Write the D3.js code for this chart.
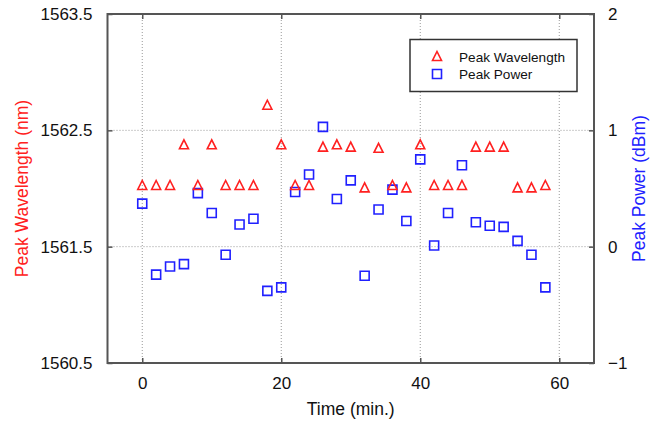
<!DOCTYPE html>
<html>
<head>
<meta charset="utf-8">
<script src="https://cdn.jsdelivr.net/npm/d3@7"></script>
<style>
  html, body { margin: 0; padding: 0; background: #fff; }
  svg { display: block; font-family: "Liberation Sans", Arial, sans-serif; }
</style>
</head>
<body>
<svg id="chart" width="661" height="424"></svg>
<script>
// Sampling times (min.)
const times = [0, 2, 4, 6, 8, 10, 12, 14, 16, 18, 20, 22, 24, 26, 28, 30, 32, 34, 36, 38, 40, 42, 44, 46, 48, 50, 52, 54, 56, 58];
// Peak wavelength (nm), left axis
const peakWavelength = [1562.03, 1562.03, 1562.03, 1562.38, 1562.03, 1562.38, 1562.03, 1562.03, 1562.03, 1562.72,
                        1562.38, 1562.03, 1562.03, 1562.36, 1562.38, 1562.36, 1562.01, 1562.35, 1562.03, 1562.01,
                        1562.38, 1562.03, 1562.03, 1562.03, 1562.36, 1562.36, 1562.36, 1562.01, 1562.01, 1562.03];
// Peak power (dBm), right axis
const peakPower = [0.37, -0.24, -0.17, -0.15, 0.46, 0.29, -0.07, 0.19, 0.24, -0.38,
                   -0.35, 0.47, 0.62, 1.03, 0.41, 0.57, -0.25, 0.32, 0.49, 0.22,
                   0.75, 0.01, 0.29, 0.70, 0.21, 0.18, 0.17, 0.05, -0.07, -0.35];
// Tick values
const xTicks = [0, 20, 40, 60];
const yLeftTicks = [1560.5, 1561.5, 1562.5, 1563.5];
const yRightTicks = [-1, 0, 1, 2];

const svg = d3.select("#chart");
const plot = { left: 107.5, right: 594, top: 14, bottom: 363 };

const x = d3.scaleLinear().domain([-5, 65]).range([plot.left, plot.right]);
const yL = d3.scaleLinear().domain([1560.5, 1563.5]).range([plot.bottom, plot.top]);
const yR = d3.scaleLinear().domain([-1, 2]).range([plot.bottom, plot.top]);

const gridColor = "#999";
const frameColor = "#555";

// Dotted grid
const grid = svg.append("g");
grid.selectAll("line.gx").data(xTicks).join("line")
  .attr("x1", d => x(d)).attr("x2", d => x(d))
  .attr("y1", plot.top).attr("y2", plot.bottom)
  .attr("stroke", gridColor).attr("stroke-width", 1).attr("stroke-dasharray", "1,2");
grid.selectAll("line.gy").data(yLeftTicks).join("line")
  .attr("y1", d => yL(d)).attr("y2", d => yL(d))
  .attr("x1", plot.left).attr("x2", plot.right)
  .attr("stroke", gridColor).attr("stroke-width", 1).attr("stroke-dasharray", "1,2");

// Axes with short inward ticks
const tickLen = 5;
const fontSize = 17;
function styleAxis(g) {
  g.select(".domain").remove();
  g.selectAll(".tick line").attr("stroke", frameColor).attr("stroke-width", 1.5);
  g.selectAll(".tick text").attr("fill", "#111").attr("font-size", fontSize)
    .attr("font-family", "Liberation Sans, Arial, sans-serif");
}

svg.append("g").attr("transform", `translate(0,${plot.bottom})`)
  .call(d3.axisBottom(x).tickValues(xTicks).tickSize(-tickLen).tickPadding(14).tickFormat(d3.format("d")))
  .call(styleAxis);
svg.append("g").attr("transform", `translate(0,${plot.top})`)
  .call(d3.axisTop(x).tickValues(xTicks).tickSize(-tickLen).tickFormat(""))
  .call(styleAxis);
svg.append("g").attr("transform", `translate(${plot.left},0)`)
  .call(d3.axisLeft(yL).tickValues(yLeftTicks).tickSize(-tickLen).tickPadding(15).tickFormat(d3.format(".1f")))
  .call(styleAxis);
svg.append("g").attr("transform", `translate(${plot.right},0)`)
  .call(d3.axisRight(yR).tickValues(yRightTicks).tickSize(-tickLen).tickPadding(14).tickFormat(d3.format("d")))
  .call(styleAxis);

// Frame
svg.append("rect")
  .attr("x", plot.left).attr("y", plot.top)
  .attr("width", plot.right - plot.left).attr("height", plot.bottom - plot.top)
  .attr("fill", "none").attr("stroke", frameColor).attr("stroke-width", 2);

// Marker paths
const triPath = (cx, cy, s) => `M${cx},${cy - s / 2}L${cx + s / 2},${cy + s / 2}L${cx - s / 2},${cy + s / 2}Z`;
const sqPath = (cx, cy, s) => `M${cx - s / 2},${cy - s / 2}h${s}v${s}h${-s}Z`;

const red = "#ff2020";
const blue = "#2020ff";

const wlData = times.map((t, i) => ({ t, v: peakWavelength[i] }));
const pwData = times.map((t, i) => ({ t, v: peakPower[i] }));

svg.append("g").selectAll("path").data(pwData).join("path")
  .attr("d", d => sqPath(x(d.t), yR(d.v), 9))
  .attr("fill", "none").attr("stroke", blue).attr("stroke-width", 1.6);

svg.append("g").selectAll("path").data(wlData).join("path")
  .attr("d", d => triPath(x(d.t), yL(d.v), 9))
  .attr("fill", "none").attr("stroke", red).attr("stroke-width", 1.6);

// Legend
const lg = svg.append("g");
lg.append("rect").attr("x", 410).attr("y", 39.5).attr("width", 167).attr("height", 52)
  .attr("fill", "#fff").attr("stroke", "#333").attr("stroke-width", 1.5);
lg.append("path").attr("d", triPath(437, 56, 9)).attr("fill", "none").attr("stroke", red).attr("stroke-width", 1.6);
lg.append("path").attr("d", sqPath(437, 74, 9)).attr("fill", "none").attr("stroke", blue).attr("stroke-width", 1.6);
lg.append("text").attr("x", 459).attr("y", 61.5).attr("font-size", 13.6).attr("fill", "#111").text("Peak Wavelength");
lg.append("text").attr("x", 459).attr("y", 79).attr("font-size", 13.6).attr("fill", "#111").text("Peak Power");

// Axis titles
const midY = (plot.top + plot.bottom) / 2;
svg.append("text")
  .attr("transform", `translate(28,${midY}) rotate(-90)`)
  .attr("text-anchor", "middle").attr("font-size", 17.5).attr("fill", red)
  .text("Peak Wavelength (nm)");
svg.append("text")
  .attr("transform", `translate(645,${midY}) rotate(-90)`)
  .attr("text-anchor", "middle").attr("font-size", 17.5).attr("fill", blue)
  .text("Peak Power (dBm)");
svg.append("text")
  .attr("x", (plot.left + plot.right) / 2).attr("y", 415)
  .attr("text-anchor", "middle").attr("font-size", 17.5).attr("fill", "#111")
  .text("Time (min.)");
</script>
</body>
</html>
